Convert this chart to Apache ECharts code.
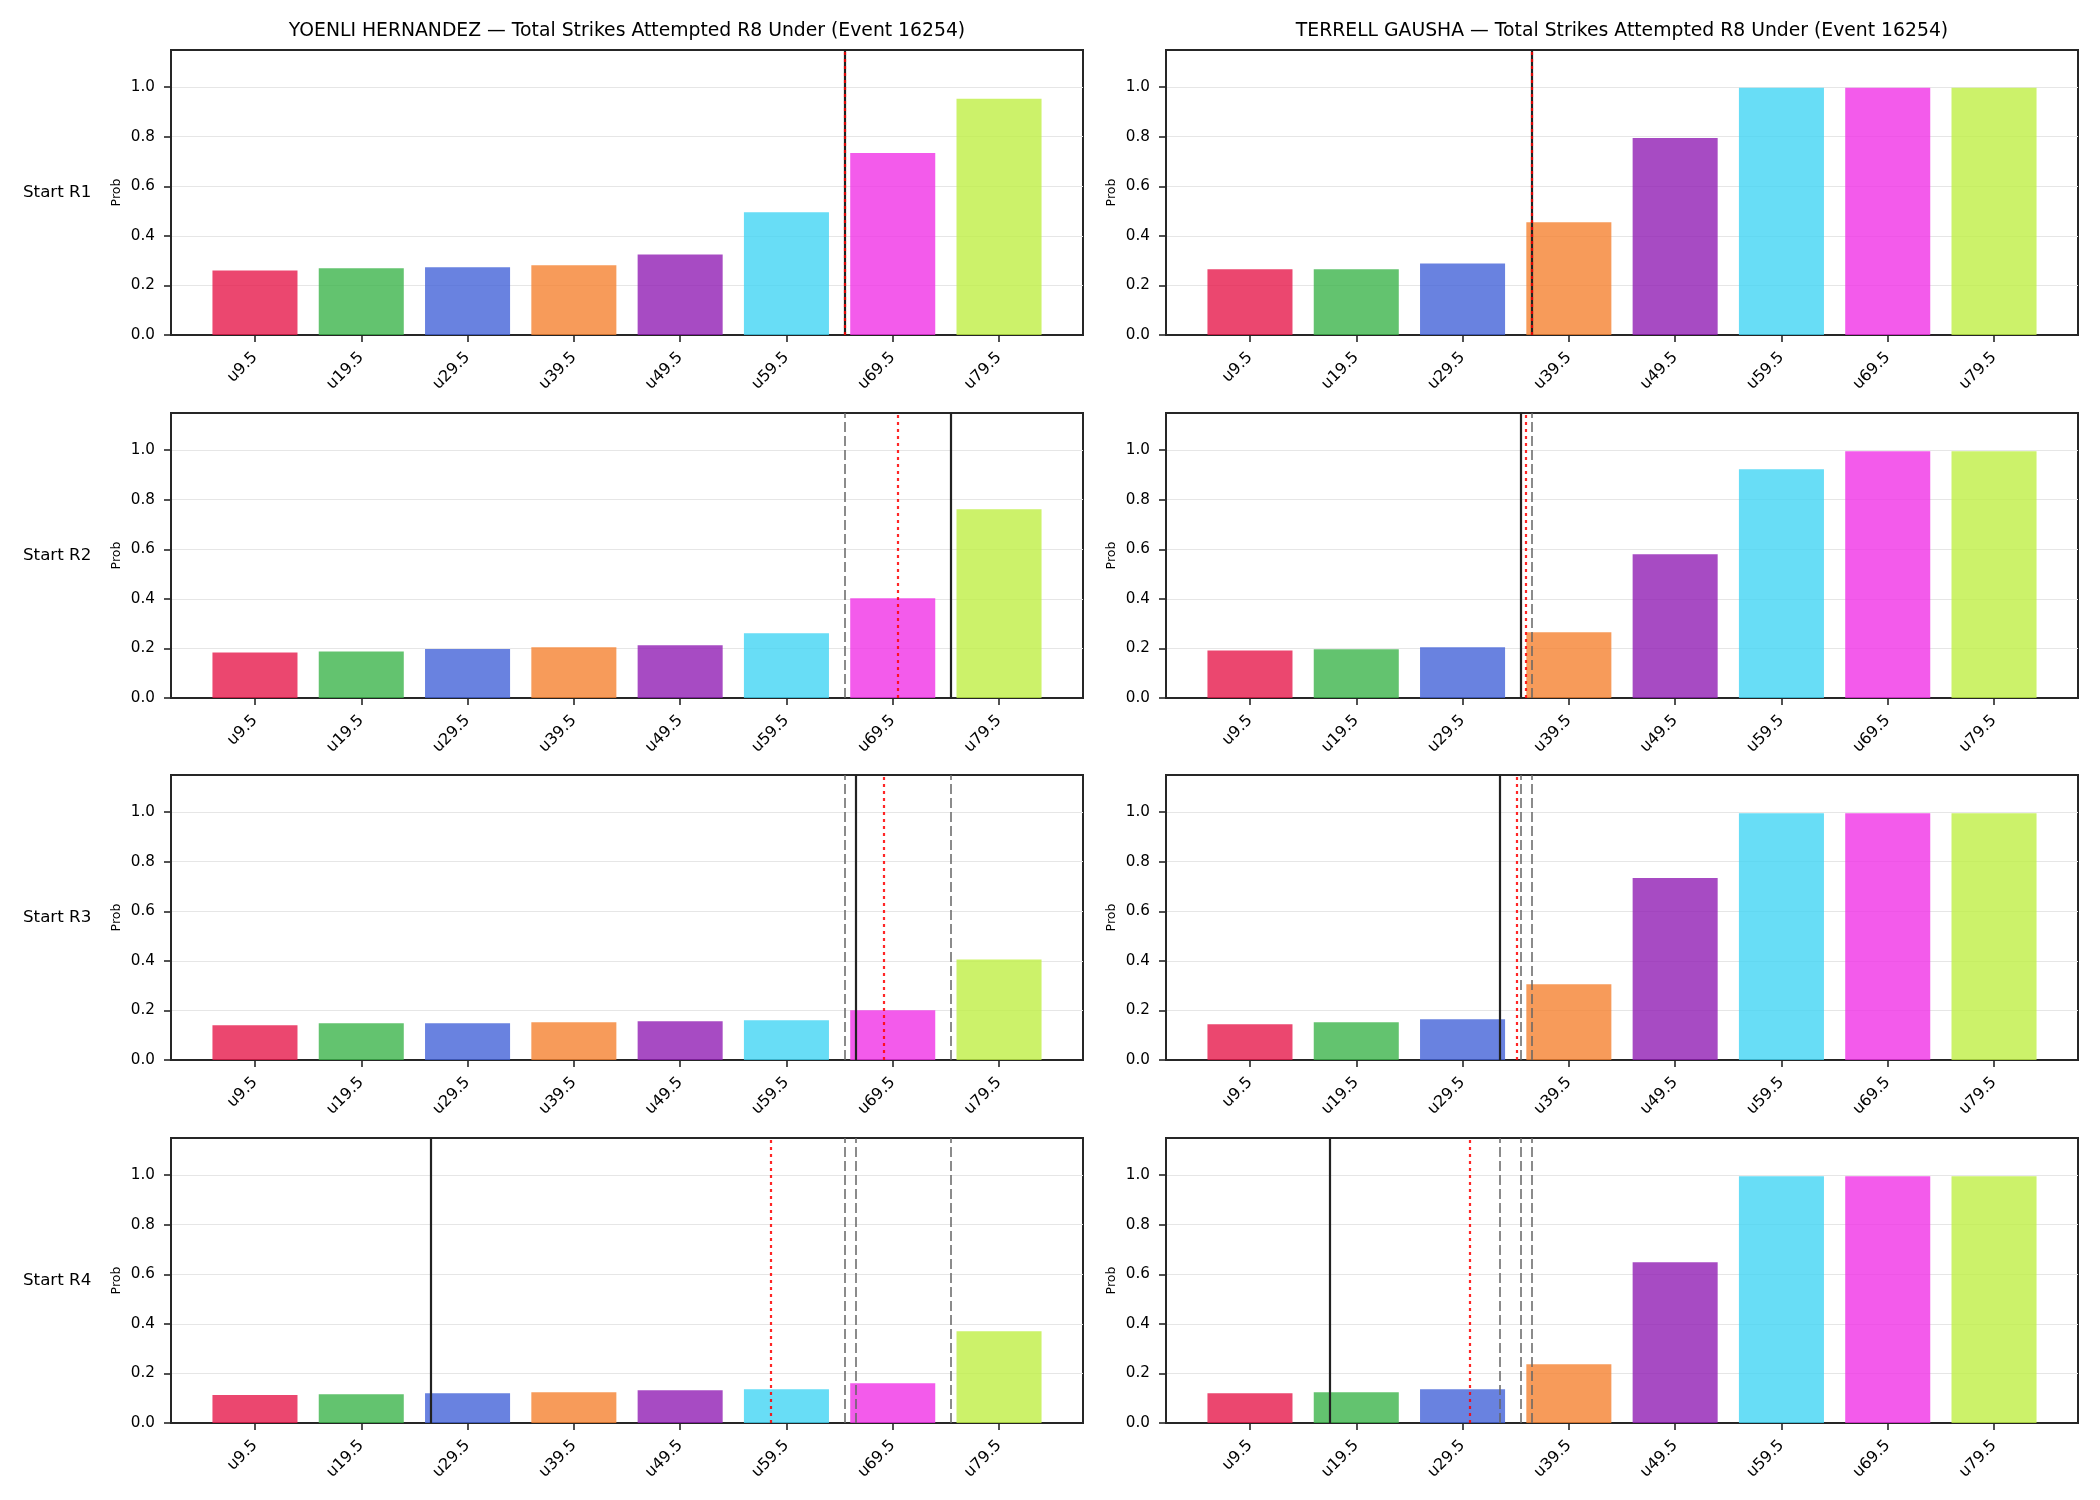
<!DOCTYPE html>
<html>
<head>
<meta charset="utf-8">
<script src="https://cdn.jsdelivr.net/npm/echarts@6/dist/echarts.min.js"></script>
<style>
html, body { margin: 0; padding: 0; background: #fff; }
#chart { width: 2100px; height: 1500px; }
</style>
</head>
<body>
<div id="chart"></div>
<script>
var thresholds = [9.5, 19.5, 29.5, 39.5, 49.5, 59.5, 69.5, 79.5];
var fighters = ['YOENLI HERNANDEZ', 'TERRELL GAUSHA'];
var rounds = ['Start R1', 'Start R2', 'Start R3', 'Start R4'];
var titleSuffix = ' — Total Strikes Attempted R8 Under (Event 16254)';
var barColors = ['#e6194b', '#3cb44b', '#4363d8', '#f58231', '#911eb4', '#42d4f4', '#f032e6', '#bfef45'];

// P(under) per round start, one row per round
var hernandezProbs = [
    [0.260, 0.269, 0.273, 0.281, 0.325, 0.495, 0.734, 0.953],
    [0.184, 0.188, 0.198, 0.205, 0.213, 0.261, 0.402, 0.762],
    [0.140, 0.148, 0.148, 0.152, 0.156, 0.160, 0.201, 0.406],
    [0.113, 0.116, 0.120, 0.124, 0.132, 0.136, 0.160, 0.370]
];
var gaushaProbs = [
    [0.265, 0.265, 0.289, 0.455, 0.795, 0.998, 0.998, 0.998],
    [0.192, 0.197, 0.205, 0.265, 0.580, 0.923, 0.996, 0.996],
    [0.144, 0.152, 0.164, 0.306, 0.734, 0.996, 0.996, 0.996],
    [0.120, 0.124, 0.136, 0.237, 0.649, 0.996, 0.996, 0.996]
];

// vertical markers, in strikes
var hernandezCurrent = [65, 75, 66, 26];
var hernandezProjected = [65, 70, 68.7, 58];
var hernandezEarlier = [[], [65], [65, 75], [65, 66, 75]];
var gaushaCurrent = [36, 35, 33, 17];
var gaushaProjected = [36, 35.4, 34.6, 30.2];
var gaushaEarlier = [[], [36], [35, 36], [33, 35, 36]];

var dom = document.getElementById('chart');
var myChart = echarts.init(dom, null, { renderer: 'canvas' });

var FONT = 'DejaVu Sans';
var colLeft = [171, 1166];
var colWidth = 912;
var rowTop = [50, 413, 775, 1138];
var rowHeight = 285;

var players = [
    { probs: hernandezProbs, current: hernandezCurrent, projected: hernandezProjected, earlier: hernandezEarlier },
    { probs: gaushaProbs, current: gaushaCurrent, projected: gaushaProjected, earlier: gaushaEarlier }
];

var grids = [], xAxes = [], yAxes = [], series = [], graphics = [];

function markLines(xs, style) {
    return {
        symbol: 'none',
        silent: true,
        label: { show: false },
        lineStyle: style,
        data: xs.map(function (x) { return { xAxis: x }; })
    };
}

for (var c = 0; c < 2; c++) {
    graphics.push({
        type: 'text',
        x: colLeft[c] + colWidth / 2,
        y: 31,
        style: {
            text: fighters[c] + titleSuffix,
            font: '18.8px "' + FONT + '"',
            fill: '#000',
            align: 'center',
            verticalAlign: 'middle'
        }
    });
    for (var r = 0; r < 4; r++) {
        var idx = grids.length;
        var p = players[c];
        grids.push({
            left: colLeft[c], top: rowTop[r], width: colWidth, height: rowHeight,
            show: true, borderColor: '#262626', borderWidth: 2, backgroundColor: 'transparent'
        });
        xAxes.push({
            gridIndex: idx,
            type: 'value',
            min: 1.6,
            max: 87.4,
            splitLine: { show: false },
            axisLine: { show: true, lineStyle: { color: '#262626', width: 2 } },
            axisTick: { show: true, length: 7, customValues: thresholds, lineStyle: { color: '#262626', width: 1.6 } },
            axisLabel: {
                customValues: thresholds,
                rotate: 45,
                margin: 20,
                color: '#000',
                fontFamily: FONT,
                fontSize: 15.8,
                formatter: function (v) { return 'u' + v; }
            }
        });
        yAxes.push({
            gridIndex: idx,
            type: 'value',
            min: 0,
            max: 1.15,
            interval: 0.2,
            name: 'Prob',
            nameLocation: 'middle',
            nameGap: 48,
            nameTextStyle: { fontFamily: FONT, fontSize: 12.5, color: '#000' },
            axisLine: { show: true, lineStyle: { color: '#262626', width: 2 } },
            axisTick: { show: true, length: 7, customValues: [0, 0.2, 0.4, 0.6, 0.8, 1.0], lineStyle: { color: '#262626', width: 1.6 } },
            axisLabel: {
                customValues: [0, 0.2, 0.4, 0.6, 0.8, 1.0],
                margin: 16,
                color: '#000',
                fontFamily: FONT,
                fontSize: 15.2,
                formatter: function (v) { return v.toFixed(1); }
            },
            splitLine: { show: true, lineStyle: { color: '#e6e6e6', width: 1.2 } }
        });

        series.push({
            type: 'custom',
            xAxisIndex: idx,
            yAxisIndex: idx,
            encode: { x: 0, y: 1 },
            data: thresholds.map(function (t, i) { return [t, p.probs[r][i]]; }),
            renderItem: function (params, api) {
                var x = api.value(0), v = api.value(1);
                var a = api.coord([x - 4, v]);
                var b = api.coord([x + 4, 0]);
                return {
                    type: 'rect',
                    shape: { x: a[0], y: a[1], width: b[0] - a[0], height: b[1] - a[1] },
                    style: { fill: barColors[params.dataIndex], opacity: 0.8 }
                };
            },
            z: 2
        });
        // earlier positions (grey dashed), current (black), projection (red dotted)
        series.push({
            type: 'line', xAxisIndex: idx, yAxisIndex: idx, data: [], z: 3,
            markLine: markLines(p.earlier[r], { color: '#666', width: 1.5, type: [10, 4] })
        });
        series.push({
            type: 'line', xAxisIndex: idx, yAxisIndex: idx, data: [], z: 4,
            markLine: markLines([p.current[r]], { color: '#222', width: 2.2, type: 'solid' })
        });
        series.push({
            type: 'line', xAxisIndex: idx, yAxisIndex: idx, data: [], z: 5,
            markLine: markLines([p.projected[r]], { color: 'rgba(255,0,0,0.85)', width: 2.2, type: [3, 4] })
        });

        if (c === 0) {
            graphics.push({
                type: 'text',
                x: 23,
                y: rowTop[r] + rowHeight / 2,
                style: {
                    text: rounds[r],
                    font: '16.7px "' + FONT + '"',
                    fill: '#000',
                    align: 'left',
                    verticalAlign: 'middle'
                }
            });
        }
    }
}

var option = {
    animation: false,
    backgroundColor: '#fff',
    grid: grids,
    xAxis: xAxes,
    yAxis: yAxes,
    series: series,
    graphic: graphics
};

myChart.setOption(option);
window.addEventListener('resize', myChart.resize);
</script>
</body>
</html>
